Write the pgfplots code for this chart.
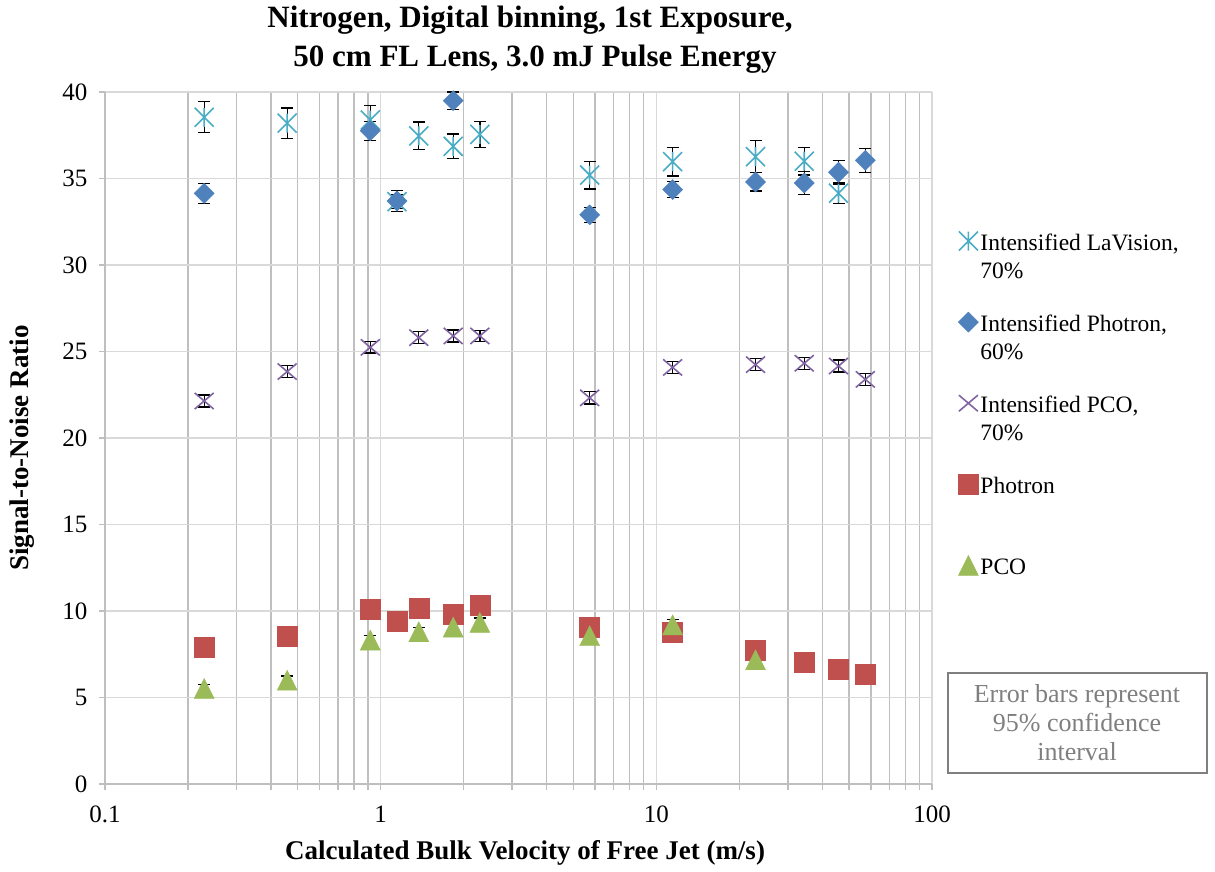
\documentclass[border=0pt]{standalone}
\usepackage{fontspec}
\setmainfont{Liberation Serif}
\usepackage{pgfplots}
\usepackage{pgfplotstable}
\pgfplotsset{compat=1.18}
\definecolor{cLav}{HTML}{4BACC6}
\definecolor{cIPh}{HTML}{4F81BD}
\definecolor{cIPCO}{HTML}{8064A2}
\definecolor{cPh}{HTML}{C0504D}
\definecolor{cPCO}{HTML}{9BBB59}
\definecolor{gDark}{HTML}{BFBFBF}
\definecolor{gLight}{HTML}{D9D9D9}
\definecolor{noteGray}{HTML}{7F7F7F}

\pgfdeclareplotmark{xstar}{%
  \pgfpathmoveto{\pgfqpoint{-\pgfplotmarksize}{-\pgfplotmarksize}}%
  \pgfpathlineto{\pgfqpoint{\pgfplotmarksize}{\pgfplotmarksize}}%
  \pgfpathmoveto{\pgfqpoint{-\pgfplotmarksize}{\pgfplotmarksize}}%
  \pgfpathlineto{\pgfqpoint{\pgfplotmarksize}{-\pgfplotmarksize}}%
  \pgfpathmoveto{\pgfqpoint{0pt}{-\pgfplotmarksize}}%
  \pgfpathlineto{\pgfqpoint{0pt}{\pgfplotmarksize}}%
  \pgfusepathqstroke}
\pgfdeclareplotmark{xcross}{%
  \pgfpathmoveto{\pgfqpoint{-\pgfplotmarksize}{-0.85\pgfplotmarksize}}%
  \pgfpathlineto{\pgfqpoint{\pgfplotmarksize}{0.85\pgfplotmarksize}}%
  \pgfpathmoveto{\pgfqpoint{-\pgfplotmarksize}{0.85\pgfplotmarksize}}%
  \pgfpathlineto{\pgfqpoint{\pgfplotmarksize}{-0.85\pgfplotmarksize}}%
  \pgfusepathqstroke}
\pgfdeclareplotmark{tri}{%
  \pgfpathmoveto{\pgfqpoint{0pt}{\pgfplotmarksize}}%
  \pgfpathlineto{\pgfqpoint{-\pgfplotmarksize}{-\pgfplotmarksize}}%
  \pgfpathlineto{\pgfqpoint{\pgfplotmarksize}{-\pgfplotmarksize}}%
  \pgfpathclose
  \pgfusepathqfillstroke}

\pgfplotstableread{
x y ey
0.229 38.54 0.90
0.458 38.20 0.87
0.917 38.38 0.85
1.146 33.66 0.40
1.375 37.46 0.80
1.833 36.86 0.72
2.29 37.55 0.75
5.73 35.20 0.80
11.46 35.97 0.82
22.9 36.26 0.93
34.4 36.00 0.80
45.8 34.15 0.60
}\lav
\pgfplotstableread{
x y ey
0.229 34.14 0.57
0.917 37.76 0.55
1.146 33.70 0.60
1.833 39.50 0.50
5.73 32.90 0.43
11.46 34.36 0.45
22.9 34.80 0.53
34.4 34.74 0.65
45.8 35.36 0.68
57.3 36.05 0.70
}\iph
\pgfplotstableread{
x y ey
0.229 22.14 0.35
0.458 23.84 0.35
0.917 25.24 0.32
1.375 25.80 0.35
1.833 25.90 0.35
2.29 25.90 0.32
5.73 22.32 0.35
11.46 24.08 0.35
22.9 24.24 0.35
34.4 24.32 0.35
45.8 24.16 0.35
57.3 23.39 0.35
}\ipco
\pgfplotstableread{
x y ey
0.229 7.90 0.2
0.458 8.55 0.2
0.917 10.09 0.2
1.146 9.39 0.2
1.375 10.15 0.2
1.833 9.79 0.2
2.29 10.35 0.2
5.73 9.09 0.2
11.46 8.75 0.2
22.9 7.75 0.2
34.4 7.03 0.2
45.8 6.63 0.2
57.3 6.34 0.2
}\ph
\pgfplotstableread{
x y ey
0.229 5.52 0.25
0.458 6.00 0.25
0.917 8.32 0.25
1.375 8.80 0.25
1.833 9.07 0.25
2.29 9.34 0.25
5.73 8.57 0.25
11.46 9.20 0.30
22.9 7.18 0.25
}\pco

\begin{document}
\begin{tikzpicture}
\path[use as bounding box] (-105pt,-87pt) rectangle (1110pt,784pt);
\begin{axis}[
  at={(0pt,0pt)}, anchor=south west,
  scale only axis, width=827pt, height=692pt,
  xmode=log, xmin=0.1, xmax=100, ymin=0, ymax=40,
  xtick={0.1,1,10,100}, xticklabels={0.1,1,10,100},
  minor xtick={0.2,0.3,0.4,0.5,0.6,0.7,0.8,0.9,2,3,4,5,6,7,8,9,20,30,40,50,60,70,80,90},
  ytick={0,5,...,40},
  xmajorgrids, xminorgrids, ymajorgrids,
  major grid style={color=gLight, line width=1.4pt},
  minor grid style={color=gDark, line width=1.4pt},
  axis x line*=bottom, axis y line*=left,
  axis line style={gDark, line width=2pt, -},
  tick align=outside,
  tick style={gDark, line width=1.5pt},
  major tick length=6pt, minor tick length=6pt,
  /pgf/number format/assume math mode=true,
  tick label style={font=\fontsize{25}{28}\selectfont, black},
  xticklabel style={yshift=-12pt},
  yticklabel style={xshift=-8pt},
  clip=false,
  error bars/y dir=both, error bars/y explicit,
  error bars/error bar style={black, line width=1.3pt},
  error bars/error mark options={black, line width=1.3pt, mark size=6pt, rotate=90},
  legend style={at={(rel axis cs:1.028,0.806)}, anchor=north west, draw=none, fill=none,
    font=\fontsize{23.5}{28}\selectfont, row sep=56pt, cells={anchor=base west}},
  legend cell align=left,
]
\addplot[only marks, mark=xstar, mark size=9.5pt, color=cLav, mark options={line width=1.6pt}]
  table[x=x, y=y, y error=ey]{\lav};
\addlegendentry{\begin{tabular}[t]{@{}l@{}}Intensified LaVision,\\70\%\end{tabular}}
\addplot[only marks, mark=square*, mark size=7.1pt, color=cIPh, mark options={rotate=45}]
  table[x=x, y=y, y error=ey]{\iph};
\addlegendentry{\begin{tabular}[t]{@{}l@{}}Intensified Photron,\\60\%\end{tabular}}
\addplot[only marks, mark=xcross, mark size=9.5pt, color=cIPCO, mark options={line width=1.6pt}]
  table[x=x, y=y, y error=ey]{\ipco};
\addlegendentry{\begin{tabular}[t]{@{}l@{}}Intensified PCO,\\70\%\end{tabular}}
\addplot[only marks, mark=square*, mark size=10pt, color=cPh]
  table[x=x, y=y, y error=ey]{\ph};
\addlegendentry{\begin{tabular}[t]{@{}l@{}}Photron\\~\end{tabular}}
\addplot[only marks, mark=tri, mark size=10pt, color=cPCO]
  table[x=x, y=y, y error=ey]{\pco};
\addlegendentry{\begin{tabular}[t]{@{}l@{}}PCO\\~\end{tabular}}
\end{axis}
\node[anchor=base, font=\fontsize{31}{36}\selectfont\bfseries] at (425pt,756pt) {Nitrogen, Digital binning, 1st Exposure,};
\node[anchor=base, font=\fontsize{31}{36}\selectfont\bfseries] at (430pt,717pt) {50 cm FL Lens, 3.0 mJ Pulse Energy};
\node[rotate=90, font=\fontsize{27}{30}\selectfont\bfseries] at (-83pt,336pt) {Signal-to-Noise Ratio};
\node[font=\fontsize{27}{30}\selectfont\bfseries] at (420pt,-69pt) {Calculated Bulk Velocity of Free Jet (m/s)};
\node[draw=noteGray, line width=2pt, text=noteGray, align=center, minimum width=259pt, minimum height=100pt,
  inner sep=2pt, font=\fontsize{26}{29}\selectfont] at (972pt,61pt) {Error bars represent\\95\% confidence\\interval};
\end{tikzpicture}
\end{document}
